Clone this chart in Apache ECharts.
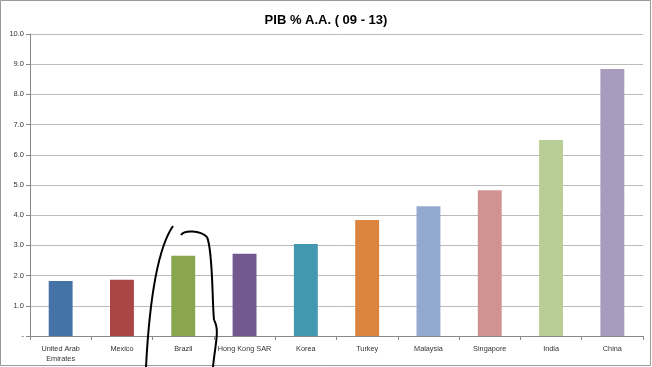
<!DOCTYPE html>
<html><head><meta charset="utf-8">
<script src="https://cdn.jsdelivr.net/npm/echarts@6/dist/echarts.min.js"></script>
<style>html,body{margin:0;padding:0;background:#fff}#c{width:652px;height:367px}</style>
</head><body><div id="c"></div>
<script>
const categories = ["United Arab\nEmirates","Mexico","Brazil","Hong Kong SAR","Korea","Turkey","Malaysia","Singapore","India","China"];
const values = [1.82, 1.86, 2.66, 2.72, 3.05, 3.84, 4.30, 4.83, 6.49, 8.84];
const barColors = ["#4572A7","#AA4643","#89A54E","#71588F","#4198AF","#DB843D","#93A9CF","#D19392","#B9CD96","#A99BBD"];
const titleText = "PIB % A.A. ( 09 - 13)";

const ink = {fill:null,stroke:'#000',lineWidth:2};
function bz(x1,y1,c1x,c1y,c2x,c2y,x2,y2){
  return {type:'bezierCurve',silent:true,shape:{x1:x1,y1:y1,cpx1:c1x,cpy1:c1y,cpx2:c2x,cpy2:c2y,x2:x2,y2:y2},style:ink,z:100};
}

const chart = echarts.init(document.getElementById('c'), null, {renderer:'canvas'});
chart.setOption({
  animation:false,
  backgroundColor:'#fff',
  title:{text:titleText,left:'center',top:9,textStyle:{fontFamily:'Liberation Sans',fontSize:13,fontWeight:'bold',color:'#000'}},
  grid:{left:30,right:9,top:34,bottom:31,containLabel:false},
  xAxis:{type:'category',data:categories,
    axisLine:{lineStyle:{color:'#888'}},
    axisTick:{show:true,lineStyle:{color:'#888'},length:4},
    axisLabel:{interval:0,fontFamily:'Liberation Sans',fontSize:7.3,color:'#333',margin:8,lineHeight:10}},
  yAxis:{type:'value',min:0,max:10,interval:1,
    axisLine:{show:true,lineStyle:{color:'#888'}},
    axisTick:{show:true,lineStyle:{color:'#888'},length:4},
    splitLine:{lineStyle:{color:'#bbb'}},
    axisLabel:{fontFamily:'Liberation Sans',fontSize:7.5,color:'#333',margin:6,
      formatter:v=>v===0?'-':v.toFixed(1)}},
  series:[{type:'bar',data:values.map((v,i)=>({value:v,itemStyle:{color:barColors[i]}})),barWidth:'39%'}],
  graphic:[
    {type:'rect',silent:true,shape:{x:0.5,y:0.5,width:650,height:365},style:{fill:null,stroke:'#999',lineWidth:1}},
    bz(173,226,160,245,150,290,146,367),
    bz(181,235,184,230,200,230,207,237),
    bz(207,237,213,250,212,300,214,320),
    bz(214,320,220,330,215,345,213,367)
  ]
});
</script></body></html>
